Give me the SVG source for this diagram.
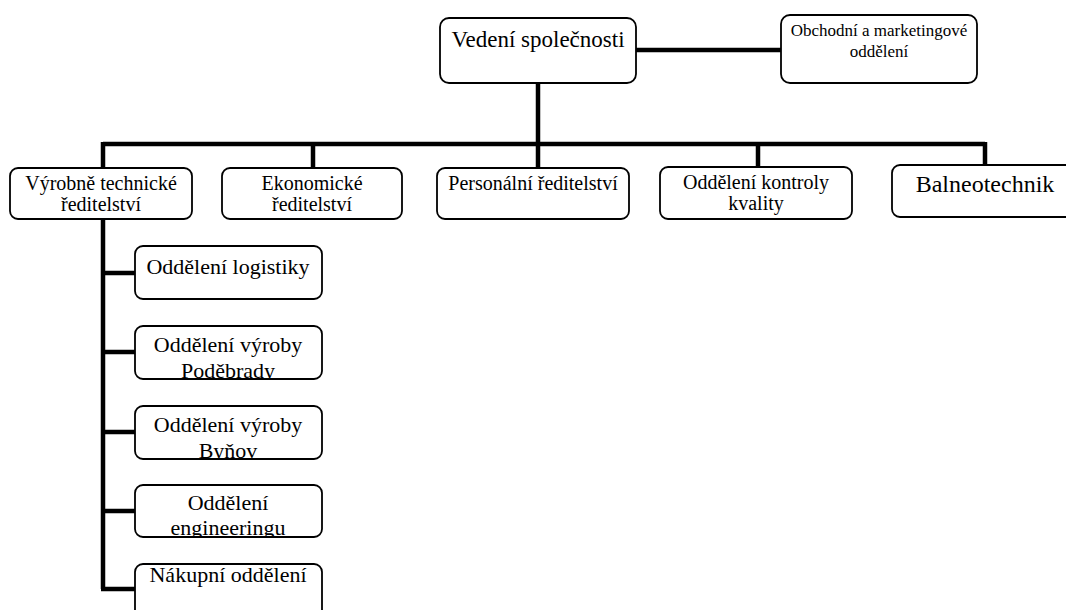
<svg xmlns="http://www.w3.org/2000/svg" width="1066" height="610" viewBox="0 0 1066 610">
<style>
.box{fill:#fff;stroke:#000;stroke-width:1.8}
.ln{fill:none;stroke:#000;stroke-width:4.5;stroke-linecap:butt}
text{font-family:"Liberation Serif","Times New Roman",serif;fill:#000;text-anchor:middle}
.t21{font-size:23px}
.t16{font-size:17px}
.t18{font-size:20px}
.t22{font-size:24px}
.t20{font-size:22px}
</style>
<defs>
<clipPath id="c2"><rect x="135" y="326" width="187" height="53"/></clipPath>
<clipPath id="c3"><rect x="135" y="406" width="187" height="53"/></clipPath>
<clipPath id="c4"><rect x="135" y="485" width="187" height="52"/></clipPath>
</defs>
<g id="connectors">
<path class="ln" d="M636 50H781"/>
<path class="ln" d="M538 83V144"/>
<path class="ln" d="M103 144H985"/>
<path class="ln" d="M103 142V168M313 144V168M538 144V168M758 144V167M985 142V165"/>
<path class="ln" d="M103 219V589"/>
<path class="ln" d="M101 273H135M101 352H135M101 432H135M101 511H135M101 589H135"/>
</g>
<g id="vedeni"><rect class="box" x="440" y="18" width="196" height="65" rx="9"/><text class="t21" x="538" y="47">Vedení společnosti</text></g>
<g id="obchodni"><rect class="box" x="781" y="15" width="196" height="68" rx="9"/><text class="t16" x="879" y="36">Obchodní a marketingové</text><text class="t16" x="879" y="57">oddělení</text></g>
<g id="vyrobne"><rect class="box" x="10" y="168" width="182" height="51" rx="8"/><text class="t18" x="101" y="190">Výrobně technické</text><text class="t18" x="101" y="211">ředitelství</text></g>
<g id="ekonomicke"><rect class="box" x="222" y="168" width="180" height="51" rx="8"/><text class="t18" x="312" y="190">Ekonomické</text><text class="t18" x="312" y="211">ředitelství</text></g>
<g id="personalni"><rect class="box" x="437" y="168" width="192" height="51" rx="8"/><text class="t18" x="533" y="190">Personální ředitelství</text></g>
<g id="kontroly"><rect class="box" x="660" y="167" width="192" height="52" rx="8"/><text class="t18" x="756" y="189">Oddělení kontroly</text><text class="t18" x="756" y="210">kvality</text></g>
<g id="balneotechnik"><rect class="box" x="892" y="165" width="190" height="52" rx="8"/><text class="t22" x="985" y="192">Balneotechnik</text></g>
<g id="logistiky"><rect class="box" x="135" y="246" width="187" height="53" rx="8"/><text class="t20" x="228" y="274">Oddělení logistiky</text></g>
<g id="podebrady"><rect class="box" x="135" y="326" width="187" height="53" rx="8"/><g clip-path="url(#c2)"><text class="t20" x="228" y="352">Oddělení výroby</text><text class="t20" x="228" y="378">Poděbrady</text></g></g>
<g id="bynov"><rect class="box" x="135" y="406" width="187" height="53" rx="8"/><g clip-path="url(#c3)"><text class="t20" x="228" y="432">Oddělení výroby</text><text class="t20" x="228" y="458">Byňov</text></g></g>
<g id="engineering"><rect class="box" x="135" y="485" width="187" height="52" rx="8"/><g clip-path="url(#c4)"><text class="t20" x="228" y="510">Oddělení</text><text class="t20" x="228" y="535">engineeringu</text></g></g>
<g id="nakupni"><rect class="box" x="135" y="564" width="187" height="60" rx="8"/><text class="t20" x="228" y="582">Nákupní oddělení</text></g>
</svg>
